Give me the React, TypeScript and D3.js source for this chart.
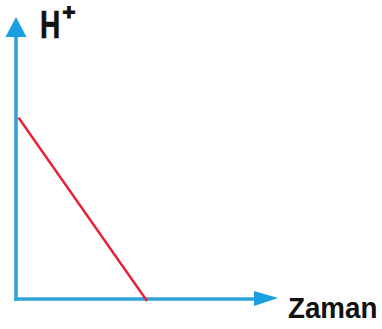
import React from "react";
import * as d3 from "d3";

// Data
const times = [0.1, 5.04];
const hValues = [6.45, -0.07];
const xLabel = "Zaman";
const yLabel = "H";
const yLabelSup = "+";

const W = 382;
const H = 329;
const x = d3.scaleLinear().domain([0, 10]).range([16, 276]);
const y = d3.scaleLinear().domain([0, 10]).range([299, 18]);

const font = "'Liberation Sans', Arial, sans-serif";

export default function App() {
  const pts: [number, number][] = times.map((t, i) => [t, hValues[i]]);
  const line = d3
    .line<[number, number]>()
    .x((d) => x(d[0]))
    .y((d) => y(d[1]));
  const ox = x(0);
  const oy = y(0);
  const axisColor = "#2ea3d8";
  const arrowColor = "#1a9fe0";
  return (
    <svg
      width={W}
      height={H}
      style={{ position: "absolute", left: 0, top: 0, background: "#fff" }}
    >
      {/* y axis */}
      <line x1={ox} y1={oy + 2} x2={ox} y2={y(10) + 16} stroke={axisColor} strokeWidth={3.5} />
      <path
        d={`M${ox},${y(10) - 1} L${ox + 10.5},${y(10) + 19} L${ox - 10.5},${y(10) + 19} Z`}
        fill={arrowColor}
      />
      {/* x axis */}
      <line x1={ox - 1.75} y1={oy} x2={x(10) - 20} y2={oy} stroke={axisColor} strokeWidth={3.5} />
      <path
        d={`M${x(10) + 2},${oy - 1} L${x(10) - 22},${oy - 8} L${x(10) - 22},${oy + 7} Z`}
        fill={arrowColor}
      />
      {/* red line */}
      <path d={line(pts) || ""} fill="none" stroke="#e8203a" strokeWidth={2.4} />
      {/* labels */}
      <text
        transform="translate(40,38) scale(0.72,1)"
        fontFamily={font}
        fontWeight="bold"
        fontSize={39}
        fill="#111"
        stroke="#111"
        strokeWidth={0.6}
      >
        {yLabel}
      </text>
      <text
        x={69}
        y={20}
        textAnchor="middle"
        fontFamily={font}
        fontWeight="bold"
        fontSize={22}
        fill="#111"
        stroke="#111"
        strokeWidth={1.2}
      >
        {yLabelSup}
      </text>
      <text
        transform="translate(288,318) scale(0.94,1)"
        fontFamily={font}
        fontWeight="bold"
        fontSize={29.5}
        fill="#111"
      >
        {xLabel}
      </text>
    </svg>
  );
}
